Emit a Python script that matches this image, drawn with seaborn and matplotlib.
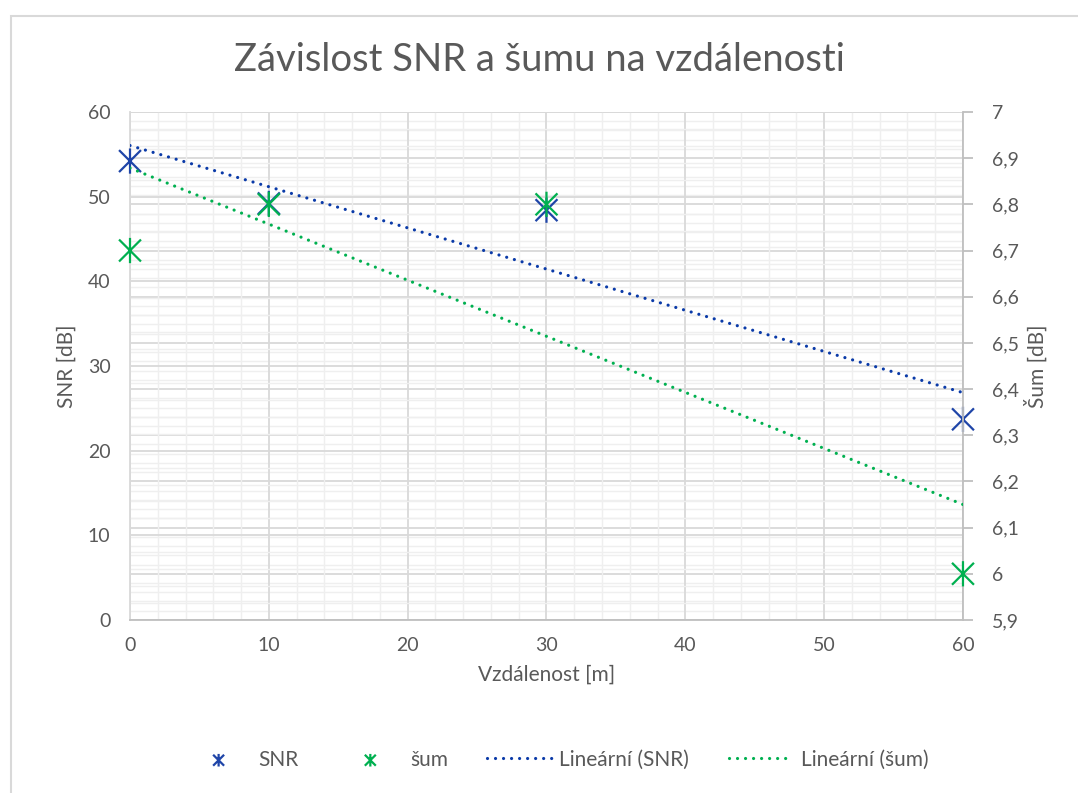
import numpy as np
import pandas as pd
import matplotlib.pyplot as plt
import matplotlib.ticker as mticker
from matplotlib.path import Path
from matplotlib.patches import Rectangle
import seaborn as sns

# data
vzdalenost = [0, 10, 30, 60]
snr = [54.2, 49.2, 48.4, 23.7]
sum_db = [6.7, 6.8, 6.8, 6.0]

df = pd.DataFrame({"x": vzdalenost, "snr": snr, "sum": sum_db})

c_snr = "#1f45a8"
c_snr_line = "#0a3aa8"
c_sum = "#00b050"
c_text = "#595959"
c_major = "#d9d9d9"
c_minor = "#efefef"

sns.set_theme(style="white")
plt.rcParams["font.family"] = ["Lato", "DejaVu Sans"]
plt.rcParams["text.color"] = c_text
plt.rcParams["axes.labelcolor"] = c_text
plt.rcParams["xtick.color"] = c_text
plt.rcParams["ytick.color"] = c_text

# Excel-like star marker: X plus vertical bar
star = Path([(-1, -1), (1, 1), (-1, 1), (1, -1), (0, -1.15), (0, 1.15)],
            [Path.MOVETO, Path.LINETO, Path.MOVETO, Path.LINETO, Path.MOVETO, Path.LINETO])

fig = plt.figure(figsize=(10.78, 7.93), dpi=100)
ax = fig.add_axes([0.1206, 0.2182, 0.7727, 0.6406])
axg = ax.twinx()   # only the right-axis grid, at the bottom
ax2 = ax.twinx()   # right-axis data and ticks, on top
axg.set_zorder(0)
ax.set_zorder(1)
ax2.set_zorder(2)
for a in (ax, ax2):
    a.patch.set_visible(False)

# trend lines
dots = dict(linestyle=(0, (0.01, 2.5)), linewidth=2.3, dash_capstyle="round", zorder=3)
sns.regplot(data=df, x="x", y="snr", ax=ax, scatter=False, ci=None, color=c_snr_line,
            label="Lineární (SNR)", line_kws=dots)
sns.regplot(data=df, x="x", y="sum", ax=ax2, scatter=False, ci=None, color=c_sum,
            label="Lineární (šum)", line_kws=dots)

# points
sns.scatterplot(data=df, x="x", y="snr", ax=ax, marker=star, s=330, color=c_snr,
                linewidth=1.6, edgecolor=c_snr, facecolor="none", label="SNR", zorder=4,
                legend=False, clip_on=False)
sns.scatterplot(data=df, x="x", y="sum", ax=ax2, marker=star, s=330, color=c_sum,
                linewidth=1.6, edgecolor=c_sum, facecolor="none", label="šum", zorder=4,
                legend=False, clip_on=False)

ax.set_xlim(0, 60)
ax.set_ylim(0, 60)
for a in (ax2, axg):
    a.set_ylim(5.9, 7.0)
    a.yaxis.set_major_locator(mticker.MultipleLocator(0.1))
    a.yaxis.set_minor_locator(mticker.MultipleLocator(0.02))

ax.xaxis.set_major_locator(mticker.MultipleLocator(10))
ax.xaxis.set_minor_locator(mticker.MultipleLocator(2))
ax.yaxis.set_major_locator(mticker.MultipleLocator(10))
ax.yaxis.set_minor_locator(mticker.MultipleLocator(2))
ax2.yaxis.set_major_formatter(mticker.FuncFormatter(lambda v, p: f"{v:.1f}".rstrip("0").rstrip(".").replace(".", ",")))

ax.set_axisbelow(True)
ax.grid(which="major", color=c_major, linewidth=1.3)
ax.grid(which="minor", color=c_minor, linewidth=1.0)
axg.grid(which="major", axis="y", color=c_major, linewidth=1.3)
axg.grid(which="minor", axis="y", color=c_minor, linewidth=1.0)
axg.tick_params(axis="y", which="both", length=0, labelright=False)
ax2.grid(False)

for a in (ax, ax2, axg):
    for s in a.spines.values():
        s.set_visible(False)
ax.spines["bottom"].set_visible(True)
ax.spines["bottom"].set_color("#bfbfbf")
ax.spines["bottom"].set_linewidth(1.3)
ax.spines["left"].set_visible(True)
ax.spines["left"].set_color(c_major)
ax.spines["left"].set_linewidth(1.3)
ax2.spines["right"].set_visible(True)
ax2.spines["right"].set_color("#bfbfbf")
ax2.spines["right"].set_linewidth(1.3)

ax.tick_params(axis="both", which="both", length=0, labelsize=14)
ax.tick_params(axis="y", pad=14)
ax.tick_params(axis="x", pad=12)
ax2.tick_params(axis="y", which="major", length=7, width=1.3, color="#bfbfbf", labelsize=14, pad=14)
ax2.tick_params(axis="y", which="minor", length=0)

ax.set_xlabel("Vzdálenost [m]", fontsize=15, labelpad=8)
ax.set_ylabel("SNR [dB]", fontsize=15, labelpad=8)
ax2.set_ylabel("Šum [dB]", fontsize=15, labelpad=4)

fig.text(0.5, 0.924, "Závislost SNR a šumu na vzdálenosti", ha="center", va="center",
         fontsize=27.5, color=c_text)

# legend
h1, l1 = ax.get_legend_handles_labels()
h2, l2 = ax2.get_legend_handles_labels()
hd = dict(zip(l1 + l2, h1 + h2))
order = ["SNR", "šum", "Lineární (SNR)", "Lineární (šum)"]
leg = fig.legend([hd[k] for k in order], order, loc="center", bbox_to_anchor=(0.517, 0.042),
                 ncol=4, frameon=False, fontsize=15, columnspacing=1.9, handlelength=3.1,
                 handletextpad=0.35, markerscale=0.5)

# chart border
fig.patches.append(Rectangle((0.0105, -0.01), 1.0, 0.99, transform=fig.transFigure,
                             fill=False, edgecolor="#d9d9d9", linewidth=1.5))

fig.savefig("out.png", dpi=100)
